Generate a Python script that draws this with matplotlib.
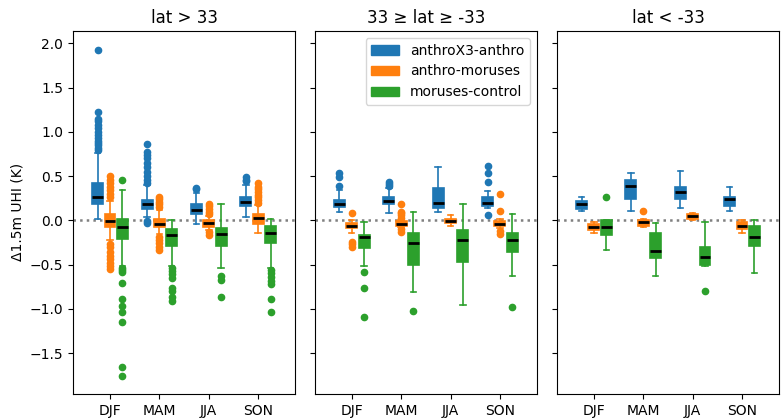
import matplotlib
matplotlib.use("Agg")
import matplotlib.pyplot as plt
from matplotlib.patches import Patch

seasons = ["DJF", "MAM", "JJA", "SON"]
regions = ["lat > 33", "33 \u2265 lat \u2265 -33", "lat < -33"]
series = ["anthroX3-anthro", "anthro-moruses", "moruses-control"]
colors = ["#1f77b4", "#ff7f0e", "#2ca02c"]

# ---- anthroX3-anthro : rows = regions, cols = seasons
a_whislo = [[0.02, 0.04, -0.04, 0.04], [0.10, 0.08, 0.09, 0.14], [0.11, 0.11, 0.14, 0.11]]
a_q1 = [[0.19, 0.13, 0.07, 0.16], [0.15, 0.18, 0.14, 0.16], [0.13, 0.24, 0.24, 0.16]]
a_med = [[0.27, 0.19, 0.12, 0.21], [0.19, 0.22, 0.20, 0.20], [0.19, 0.39, 0.32, 0.24]]
a_q3 = [[0.42, 0.235, 0.18, 0.27], [0.235, 0.27, 0.37, 0.26], [0.22, 0.46, 0.38, 0.26]]
a_whishi = [[0.76, 0.40, 0.31, 0.40], [0.34, 0.37, 0.60, 0.33], [0.26, 0.53, 0.56, 0.38]]
a_fliers = [
    [[0.80, 0.82, 0.85, 0.88, 0.90, 0.93, 0.96, 1.00, 1.04, 1.08, 1.12, 1.15, 1.22, 1.92],
     [-0.03, -0.01, 0.42, 0.46, 0.50, 0.55, 0.60, 0.65, 0.70, 0.74, 0.77, 0.86],
     [0.35, 0.37],
     [0.44, 0.46, 0.49]],
    [[0.39, 0.49, 0.53], [0.39, 0.41, 0.43], [], [0.06, 0.43, 0.53, 0.62]],
    [[], [], [], []],
]

# ---- anthro-moruses
b_whislo = [[-0.22, -0.15, -0.11, -0.14], [-0.14, -0.08, -0.06, -0.09], [-0.14, -0.08, 0.01, -0.14]]
b_q1 = [[-0.075, -0.08, -0.07, -0.04], [-0.09, -0.06, -0.03, -0.06], [-0.11, -0.06, 0.02, -0.10]]
b_med = [[-0.01, -0.04, -0.03, 0.03], [-0.06, -0.04, -0.01, -0.04], [-0.08, -0.02, 0.05, -0.06]]
b_q3 = [[0.07, 0.02, 0.01, 0.075], [-0.03, -0.01, 0.02, -0.01], [-0.04, 0.01, 0.075, -0.02]]
b_whishi = [[0.22, 0.12, 0.05, 0.17], [0.01, 0.01, 0.06, 0.02], [-0.02, 0.02, 0.08, 0.0]]
b_fliers = [
    [[-0.55, -0.52, -0.48, -0.44, -0.40, -0.36, -0.30, -0.27, 0.26, 0.30, 0.34, 0.38, 0.42, 0.46, 0.50],
     [-0.34, -0.30, -0.26, -0.22, -0.19, 0.15, 0.18, 0.21, 0.24, 0.27],
     [-0.17, -0.13, 0.07, 0.10, 0.13, 0.16, 0.19],
     [0.20, 0.23, 0.26, 0.29, 0.32, 0.35, 0.38, 0.42]],
    [[-0.30, -0.27, -0.24, 0.08], [-0.13, -0.10, 0.03, 0.06, 0.08, 0.10, 0.18], [], [-0.15, -0.12, 0.11, 0.30]],
    [[], [0.11], [], []],
]

# ---- moruses-control
c_whislo = [[-0.52, -0.52, -0.54, -0.54], [-0.51, -0.81, -0.96, -0.63], [-0.34, -0.63, -0.51, -0.59]]
c_q1 = [[-0.21, -0.29, -0.29, -0.26], [-0.31, -0.50, -0.47, -0.36], [-0.17, -0.42, -0.50, -0.29]]
c_med = [[-0.08, -0.17, -0.15, -0.14], [-0.19, -0.26, -0.22, -0.22], [-0.075, -0.35, -0.41, -0.19]]
c_q3 = [[0.02, -0.10, -0.09, -0.06], [-0.16, -0.14, -0.11, -0.14], [0.01, -0.14, -0.30, -0.06]]
c_whishi = [[0.34, 0.01, 0.19, 0.02], [-0.02, 0.09, 0.19, 0.075], [0.01, -0.03, -0.02, 0.01]]
c_fliers = [
    [[-1.76, -1.66, -1.15, -1.03, -0.97, -0.89, -0.71, -0.58, -0.56, -0.54, 0.46],
     [-0.91, -0.86, -0.80, -0.76, -0.65, -0.61, -0.57, -0.54],
     [-0.86, -0.67, -0.63],
     [-1.04, -0.89, -0.72, -0.68, -0.64, -0.60, -0.56]],
    [[-1.09, -0.76, -0.58], [-1.02], [], [-0.98]],
    [[0.26], [], [-0.80], []],
]

all_stats = [
    (a_whislo, a_q1, a_med, a_q3, a_whishi, a_fliers),
    (b_whislo, b_q1, b_med, b_q3, b_whishi, b_fliers),
    (c_whislo, c_q1, c_med, c_q3, c_whishi, c_fliers),
]

fig = plt.figure(figsize=(7.81, 4.19), dpi=100)
lefts = [0.0935, 0.403, 0.713]
width = 0.2845
bottom, height = 0.060, 0.866
axes = []
for i in range(3):
    ax = fig.add_axes([lefts[i], bottom, width, height], sharey=axes[0] if axes else None)
    axes.append(ax)

offsets = [-0.25, 0.0, 0.25]
for r, ax in enumerate(axes):
    for s, (wl, q1, md, q3, wh, fl) in enumerate(all_stats):
        stats = []
        for k in range(len(seasons)):
            stats.append(dict(whislo=wl[r][k], q1=q1[r][k], med=md[r][k], q3=q3[r][k],
                              whishi=wh[r][k], fliers=fl[r][k]))
        pos = [k + 1 + offsets[s] for k in range(len(seasons))]
        col = colors[s]
        ax.bxp(stats, positions=pos, widths=0.22, patch_artist=True, manage_ticks=False,
               boxprops=dict(facecolor=col, edgecolor=col, linewidth=1.2),
               medianprops=dict(color="black", linewidth=2),
               whiskerprops=dict(color=col, linewidth=1.2),
               capprops=dict(color=col, linewidth=1.2),
               flierprops=dict(marker="o", markerfacecolor=col, markeredgecolor=col,
                               markersize=4.5, linestyle="none"))
    ax.axhline(0, color="gray", linestyle=":", linewidth=1.8, zorder=0)
    ax.set_xticks(range(1, len(seasons) + 1))
    ax.set_xticklabels(seasons, fontsize=10)
    ax.set_xlim(0.25, 4.75)
    ax.set_title(regions[r], fontsize=12)
    ax.tick_params(axis="y", labelsize=10)
    if r > 0:
        ax.tick_params(axis="y", labelleft=False)

axes[0].set_ylim(-1.96, 2.14)
axes[0].set_yticks([-1.5, -1.0, -0.5, 0.0, 0.5, 1.0, 1.5, 2.0])
axes[0].set_ylabel("\u03941.5m UHI (K)", fontsize=10)

handles = [Patch(facecolor=c, edgecolor=c) for c in colors]
axes[1].legend(handles, series, loc="upper right", fontsize=10)

fig.savefig("out.png", dpi=100)
